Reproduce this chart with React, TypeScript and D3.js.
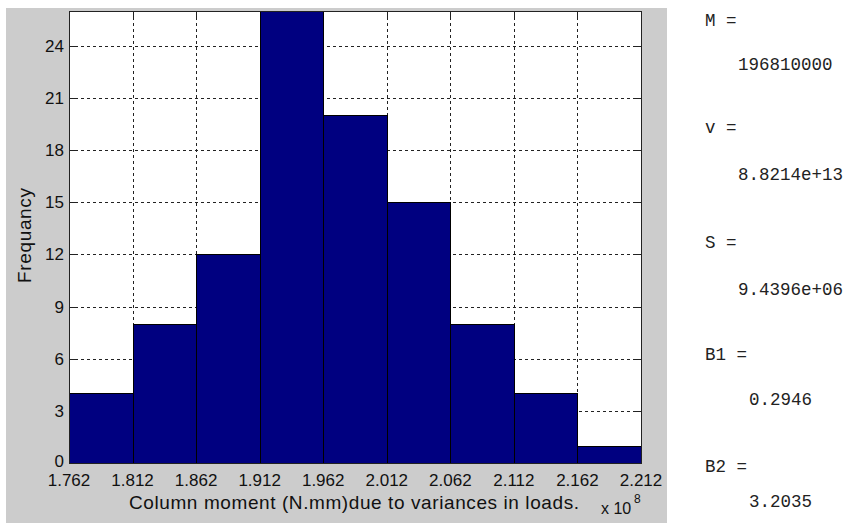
import React from "react";
import * as d3 from "d3";

const xTickLabels = ["1.762", "1.812", "1.862", "1.912", "1.962", "2.012", "2.062", "2.112", "2.162", "2.212"];
const binCounts = [4, 8, 12, 26, 20, 15, 8, 4, 1];
const yTicks = [0, 3, 6, 9, 12, 15, 18, 21, 24];
const statNames = ["M =", "v =", "S =", "B1 =", "B2 ="];
const statValues = ["196810000", "8.8214e+13", "9.4396e+06", "0.2946", "3.2035"];

const W = 849;
const H = 523;
const plot = { left: 69, right: 641, top: 11, bottom: 463 };

export default function App() {
  const edges = xTickLabels.map((s) => +s);
  const x = d3.scaleLinear().domain([edges[0], edges[edges.length - 1]]).range([plot.left, plot.right]);
  const y = d3.scaleLinear().domain([0, 26]).range([plot.bottom, plot.top]);
  const sans = "'Liberation Sans', Arial, sans-serif";
  const mono = "'Liberation Mono', 'Courier New', monospace";
  const labelY = [21, 128, 243, 355, 467];
  const valueY = [65, 175, 290, 400, 502];
  const valueX = [738, 738, 738, 749, 749];
  const r = (v: number) => Math.round(v) + 0.5;

  return (
    <svg width={W} height={H} style={{ position: "absolute", left: 0, top: 0, background: "#fff" }}>
      <rect x={6} y={8} width={661} height={H - 8} fill="#cccccc" />
      <rect x={plot.left} y={plot.top} width={plot.right - plot.left} height={plot.bottom - plot.top} fill="#fff" />
      {/* grid */}
      {edges.slice(1, -1).map((e, i) => (
        <line key={"gx" + i} x1={r(x(e))} x2={r(x(e))} y1={plot.top} y2={plot.bottom} stroke="#222" strokeDasharray="3,3" />
      ))}
      {yTicks.slice(1).map((t, i) => (
        <line key={"gy" + i} x1={plot.left} x2={plot.right} y1={r(y(t))} y2={r(y(t))} stroke="#222" strokeDasharray="3,3" />
      ))}
      {/* ticks */}
      {edges.slice(1, -1).map((e, i) => (
        <g key={"tx" + i} stroke="#222">
          <line x1={r(x(e))} x2={r(x(e))} y1={plot.top} y2={plot.top + 6} />
          <line x1={r(x(e))} x2={r(x(e))} y1={plot.bottom} y2={plot.bottom - 6} />
        </g>
      ))}
      {yTicks.slice(1).map((t, i) => (
        <g key={"ty" + i} stroke="#222">
          <line x1={plot.left} x2={plot.left + 6} y1={r(y(t))} y2={r(y(t))} />
          <line x1={plot.right} x2={plot.right - 6} y1={r(y(t))} y2={r(y(t))} />
        </g>
      ))}
      {/* bars */}
      {binCounts.map((c, i) => (
        <rect
          key={"b" + i}
          x={r(x(edges[i]))}
          y={r(y(c))}
          width={Math.round(x(edges[i + 1])) - Math.round(x(edges[i]))}
          height={Math.round(y(0)) - Math.round(y(c))}
          fill="#000080"
          stroke="#000"
          strokeWidth={1}
        />
      ))}
      {/* frame */}
      <rect x={plot.left + 0.5} y={plot.top + 0.5} width={plot.right - plot.left} height={plot.bottom - plot.top} fill="none" stroke="#222" />
      {/* tick labels */}
      {xTickLabels.map((s, i) => (
        <text key={"xl" + i} x={x(edges[i])} y={486} textAnchor="middle" fontFamily={sans} fontSize={17} fill="#111">
          {s}
        </text>
      ))}
      {yTicks.map((t, i) => (
        <text key={"yl" + i} x={64} y={y(t) + (t === 0 ? 3.5 : 6)} textAnchor="end" fontFamily={sans} fontSize={17} fill="#111">
          {t}
        </text>
      ))}
      <text x={129} y={509} textLength={450} lengthAdjust="spacing" fontFamily={sans} fontSize={19} fill="#111">
        Column moment (N.mm)due to variances in loads.
      </text>
      <text x={601} y={514} fontFamily={sans} fontSize={16} fill="#111">
        x 10
      </text>
      <text x={634} y={503} fontFamily={sans} fontSize={12} fill="#111">
        8
      </text>
      <text
        transform={`translate(31,283) rotate(-90)`}
        textLength={95}
        lengthAdjust="spacing"
        fontFamily={sans}
        fontSize={19}
        fill="#111"
      >
        Frequancy
      </text>
      {/* stats */}
      {statNames.map((s, i) => (
        <g key={"s" + i} fontFamily={mono} fontSize={17.5} fill="#222">
          <text x={705} y={labelY[i] + 5}>{s}</text>
          <text x={valueX[i]} y={valueY[i] + 5}>{statValues[i]}</text>
        </g>
      ))}
    </svg>
  );
}
